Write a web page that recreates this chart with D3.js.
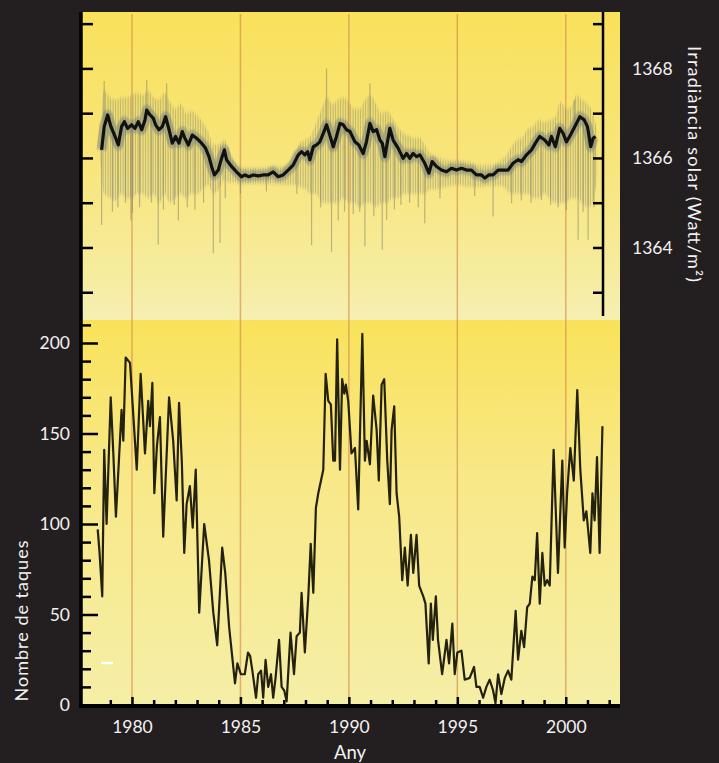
<!DOCTYPE html>
<html>
<head>
<meta charset="utf-8">
<script src="https://cdn.jsdelivr.net/npm/d3@7"></script>
<style>
  html, body { margin: 0; padding: 0; background: #231f20; }
  svg { display: block; font-family: Lato, 'Open Sans', sans-serif; }
</style>
</head>
<body>
<div id="chart"></div>
<script>
// monthly sunspot number: [year, count]
const sunspots = [
  [1978.42, 97], [1978.50, 85], [1978.63, 60], [1978.72, 141], [1978.83, 100],
  [1979.02, 170], [1979.14, 139], [1979.26, 104], [1979.52, 163], [1979.60, 146],
  [1979.71, 192], [1979.91, 189], [1980.22, 130], [1980.40, 183], [1980.60, 139],
  [1980.75, 168], [1980.83, 154], [1980.94, 178], [1981.03, 117], [1981.15, 143],
  [1981.29, 159], [1981.44, 93], [1981.71, 170], [1981.90, 146], [1982.06, 113],
  [1982.17, 167], [1982.30, 134], [1982.41, 84], [1982.52, 111], [1982.67, 121],
  [1982.80, 98], [1982.94, 130], [1983.10, 51], [1983.33, 100], [1983.55, 80],
  [1983.75, 51], [1983.93, 33], [1984.16, 87], [1984.30, 73], [1984.48, 43],
  [1984.75, 12], [1984.86, 23], [1985.02, 17], [1985.20, 17], [1985.35, 29],
  [1985.45, 27], [1985.55, 19], [1985.72, 4], [1985.82, 17], [1985.95, 19],
  [1986.05, 4], [1986.16, 25], [1986.28, 10], [1986.41, 17], [1986.51, 4],
  [1986.62, 15], [1986.78, 36], [1986.90, 10], [1987.02, 8], [1987.13, 2],
  [1987.31, 40], [1987.47, 17], [1987.59, 38], [1987.74, 40], [1987.82, 62],
  [1987.97, 29], [1988.13, 60], [1988.24, 89], [1988.36, 62], [1988.48, 109],
  [1988.59, 117], [1988.82, 130], [1988.93, 183], [1989.05, 168], [1989.17, 166],
  [1989.28, 135], [1989.36, 135], [1989.46, 202], [1989.59, 130], [1989.69, 180],
  [1989.79, 172], [1989.86, 177], [1989.97, 168], [1990.12, 139], [1990.28, 142],
  [1990.43, 108], [1990.62, 205], [1990.74, 135], [1990.82, 146], [1990.97, 133],
  [1991.12, 171], [1991.28, 152], [1991.38, 124], [1991.51, 177], [1991.63, 180],
  [1991.77, 135], [1991.89, 111], [1991.97, 152], [1992.09, 165], [1992.20, 117],
  [1992.32, 104], [1992.46, 69], [1992.58, 87], [1992.71, 66], [1992.86, 94],
  [1992.97, 73], [1993.12, 94], [1993.24, 66], [1993.43, 60], [1993.53, 56],
  [1993.68, 23], [1993.78, 56], [1993.87, 36], [1994.01, 60], [1994.11, 36],
  [1994.30, 17], [1994.50, 36], [1994.62, 23], [1994.77, 45], [1994.88, 17],
  [1995.00, 29], [1995.19, 30], [1995.34, 14], [1995.57, 15], [1995.77, 21],
  [1995.88, 10], [1996.03, 10], [1996.19, 4], [1996.34, 10], [1996.49, 14],
  [1996.65, 8], [1996.76, 1], [1996.88, 17], [1997.03, 6], [1997.19, 15],
  [1997.34, 19], [1997.49, 14], [1997.69, 52], [1997.80, 25], [1997.95, 41],
  [1998.08, 32], [1998.22, 54], [1998.34, 56], [1998.46, 71], [1998.57, 69],
  [1998.68, 95], [1998.80, 56], [1998.92, 84], [1999.03, 66], [1999.14, 69],
  [1999.26, 66], [1999.44, 141], [1999.64, 73], [1999.84, 135], [1999.95, 87],
  [2000.06, 117], [2000.21, 142], [2000.37, 124], [2000.53, 174], [2000.67, 130],
  [2000.83, 102], [2000.95, 107], [2001.13, 84], [2001.23, 117], [2001.33, 102],
  [2001.44, 137], [2001.56, 84], [2001.69, 154]
]

// smoothed total solar irradiance (black line): [year, W/m2]
const irradiance = [
  [1978.60, 1366.18], [1978.72, 1366.70], [1978.88, 1366.96], [1979.03, 1366.70],
  [1979.22, 1366.48], [1979.37, 1366.29], [1979.52, 1366.70], [1979.65, 1366.81],
  [1979.80, 1366.66], [1979.98, 1366.74], [1980.14, 1366.66], [1980.29, 1366.81],
  [1980.45, 1366.63], [1980.60, 1366.85], [1980.68, 1367.07], [1980.83, 1366.96],
  [1980.98, 1366.89], [1981.09, 1366.74], [1981.24, 1366.63], [1981.40, 1366.70],
  [1981.55, 1366.92], [1981.71, 1366.63], [1981.86, 1366.33], [1982.01, 1366.48],
  [1982.17, 1366.33], [1982.32, 1366.59], [1982.44, 1366.44], [1982.60, 1366.29],
  [1982.78, 1366.51], [1982.98, 1366.44], [1983.21, 1366.33], [1983.39, 1366.22],
  [1983.55, 1366.03], [1983.67, 1365.81], [1983.80, 1365.62], [1983.98, 1365.73],
  [1984.13, 1365.99], [1984.26, 1366.18], [1984.36, 1365.96], [1984.59, 1365.81],
  [1984.82, 1365.69], [1985.05, 1365.58], [1985.21, 1365.62], [1985.39, 1365.58],
  [1985.59, 1365.62], [1985.82, 1365.60], [1986.05, 1365.62], [1986.28, 1365.62],
  [1986.51, 1365.69], [1986.74, 1365.58], [1986.97, 1365.62], [1987.20, 1365.73],
  [1987.43, 1365.84], [1987.67, 1366.07], [1987.82, 1366.14], [1987.97, 1366.07],
  [1988.10, 1366.14], [1988.20, 1365.96], [1988.36, 1366.25], [1988.51, 1366.29],
  [1988.66, 1366.36], [1988.82, 1366.55], [1988.97, 1366.74], [1989.12, 1366.51],
  [1989.28, 1366.25], [1989.43, 1366.48], [1989.59, 1366.77], [1989.74, 1366.74],
  [1989.89, 1366.63], [1990.05, 1366.59], [1990.28, 1366.36], [1990.46, 1366.29],
  [1990.66, 1366.10], [1990.81, 1366.36], [1990.97, 1366.77], [1991.12, 1366.59],
  [1991.28, 1366.63], [1991.43, 1366.40], [1991.54, 1366.33], [1991.66, 1366.03],
  [1991.78, 1366.36], [1991.89, 1366.66], [1992.04, 1366.40], [1992.27, 1366.22],
  [1992.50, 1365.99], [1992.66, 1366.10], [1992.81, 1365.99], [1992.96, 1366.10],
  [1993.12, 1366.03], [1993.27, 1366.07], [1993.50, 1365.88], [1993.69, 1365.66],
  [1993.84, 1365.92], [1994.04, 1365.81], [1994.27, 1365.73], [1994.50, 1365.69],
  [1994.73, 1365.77], [1994.96, 1365.73], [1995.19, 1365.77], [1995.42, 1365.73],
  [1995.65, 1365.73], [1995.88, 1365.62], [1996.11, 1365.62], [1996.27, 1365.55],
  [1996.45, 1365.62], [1996.65, 1365.62], [1996.88, 1365.73], [1997.16, 1365.73],
  [1997.34, 1365.73], [1997.57, 1365.88], [1997.80, 1365.96], [1997.96, 1365.92],
  [1998.19, 1366.07], [1998.42, 1366.18], [1998.60, 1366.33], [1998.80, 1366.48],
  [1999.03, 1366.40], [1999.22, 1366.29], [1999.34, 1366.48], [1999.52, 1366.25],
  [1999.72, 1366.66], [1999.88, 1366.55], [2000.03, 1366.36], [2000.18, 1366.48],
  [2000.34, 1366.63], [2000.49, 1366.77], [2000.65, 1366.92], [2000.85, 1366.85],
  [2001.00, 1366.70], [2001.15, 1366.25], [2001.26, 1366.44], [2001.37, 1366.48]
]

// spread of the daily values (grey band): [year, high, low]
const dailySpread = [
  [1978.55, 1366.40, 1365.90], [1978.70, 1367.50, 1365.20], [1979.00, 1367.35, 1365.10],
  [1979.25, 1367.30, 1365.05], [1979.50, 1367.35, 1365.20], [1979.75, 1367.35, 1365.10],
  [1980.00, 1367.40, 1365.10], [1980.25, 1367.45, 1365.20], [1980.50, 1367.40, 1365.20],
  [1980.75, 1367.50, 1365.10], [1981.00, 1367.35, 1365.20], [1981.25, 1367.30, 1365.00],
  [1981.50, 1367.45, 1365.20], [1981.75, 1367.25, 1365.00], [1982.00, 1367.10, 1365.10],
  [1982.25, 1367.20, 1365.20], [1982.50, 1367.00, 1365.10], [1982.75, 1367.05, 1365.20],
  [1983.00, 1366.95, 1365.20], [1983.25, 1366.80, 1365.30], [1983.50, 1366.60, 1365.40],
  [1983.75, 1366.30, 1365.20], [1984.00, 1366.30, 1365.30], [1984.25, 1366.40, 1365.50],
  [1984.50, 1366.15, 1365.45], [1984.75, 1365.90, 1365.45], [1985.00, 1365.78, 1365.40],
  [1985.50, 1365.78, 1365.42], [1986.00, 1365.78, 1365.42], [1986.50, 1365.82, 1365.42],
  [1987.00, 1365.80, 1365.40], [1987.50, 1366.05, 1365.40], [1987.75, 1366.35, 1365.35],
  [1988.00, 1366.40, 1365.30], [1988.25, 1366.50, 1365.20], [1988.50, 1366.80, 1365.20],
  [1988.75, 1367.10, 1365.00], [1989.00, 1367.35, 1365.00], [1989.25, 1367.20, 1365.00],
  [1989.50, 1367.30, 1365.00], [1989.75, 1367.35, 1365.10], [1990.00, 1367.25, 1365.00],
  [1990.25, 1367.10, 1365.00], [1990.50, 1367.10, 1364.90], [1990.75, 1367.30, 1365.00],
  [1991.00, 1367.40, 1365.00], [1991.25, 1367.20, 1364.90], [1991.50, 1367.00, 1365.00],
  [1991.75, 1367.05, 1365.00], [1992.00, 1366.90, 1365.10], [1992.25, 1366.70, 1365.10],
  [1992.50, 1366.55, 1365.20], [1992.75, 1366.50, 1365.20], [1993.00, 1366.45, 1365.20],
  [1993.25, 1366.45, 1365.20], [1993.50, 1366.30, 1365.20], [1993.75, 1366.10, 1365.30],
  [1994.00, 1366.05, 1365.30], [1994.50, 1365.95, 1365.35], [1995.00, 1365.95, 1365.40],
  [1995.50, 1365.92, 1365.35], [1996.00, 1365.85, 1365.35], [1996.50, 1365.85, 1365.38],
  [1997.00, 1365.95, 1365.38], [1997.25, 1366.05, 1365.30], [1997.50, 1366.25, 1365.20],
  [1997.75, 1366.40, 1365.20], [1998.00, 1366.45, 1365.20], [1998.25, 1366.65, 1365.20],
  [1998.50, 1366.70, 1365.10], [1998.75, 1366.85, 1365.10], [1999.00, 1366.80, 1365.20],
  [1999.25, 1366.85, 1365.10], [1999.50, 1366.90, 1365.00], [1999.75, 1367.25, 1365.00],
  [2000.00, 1367.10, 1365.00], [2000.25, 1367.15, 1365.10], [2000.50, 1367.40, 1365.10],
  [2000.75, 1367.30, 1365.00], [2001.00, 1367.20, 1364.90], [2001.25, 1367.00, 1365.00],
  [2001.45, 1366.60, 1365.60]
]

// isolated daily extremes sticking out of the band: [year, W/m2]
const dailySpikes = [
  [1978.60, 1364.50], [1978.72, 1367.72], [1979.10, 1364.80], [1979.35, 1364.90],
  [1979.70, 1365.00], [1979.95, 1364.60], [1980.02, 1364.77], [1980.35, 1364.90],
  [1980.68, 1367.74], [1980.90, 1365.00], [1981.21, 1364.06], [1981.45, 1364.85],
  [1981.60, 1367.67], [1981.95, 1364.95], [1982.14, 1364.60], [1982.55, 1364.90],
  [1982.90, 1364.85], [1983.30, 1365.00], [1983.75, 1363.87], [1984.06, 1364.10],
  [1984.30, 1365.10], [1985.00, 1365.20], [1986.20, 1365.25], [1987.60, 1365.20],
  [1988.28, 1364.05], [1988.70, 1364.90], [1988.97, 1368.00], [1989.20, 1363.90],
  [1989.51, 1364.60], [1989.80, 1364.80], [1990.20, 1364.75], [1990.50, 1364.80],
  [1990.74, 1364.02], [1990.97, 1367.67], [1991.15, 1364.70], [1991.54, 1363.95],
  [1991.74, 1364.62], [1992.10, 1364.85], [1992.40, 1364.95], [1992.80, 1365.00],
  [1993.20, 1364.90], [1993.50, 1364.54], [1994.20, 1365.10], [1995.80, 1365.15],
  [1996.65, 1364.69], [1997.50, 1364.99], [1997.95, 1365.05], [1998.40, 1365.00],
  [1998.88, 1365.06], [1999.30, 1364.95], [1999.65, 1364.90], [2000.03, 1364.84],
  [2000.40, 1367.30], [2000.57, 1364.17], [2000.80, 1364.80], [2001.03, 1364.17],
  [2001.30, 1364.90]
]

const yearLabels = [1980, 1985, 1990, 1995, 2000]
const yearMinor = [1979, 1981, 1982, 1983, 1984, 1986, 1987, 1988, 1989, 1991, 1992,
  1993, 1994, 1996, 1997, 1998, 1999, 2001, 2002]
const irrTicks = [1363, 1364, 1365, 1366, 1367, 1368, 1369]
const irrLabels = [1364, 1366, 1368]
const spotLabels = [0, 50, 100, 150, 200]
const spotMinor = [10, 20, 30, 40, 60, 70, 80, 90, 110, 120, 130, 140, 160, 170, 180, 190, 210]

const W = 719
const H = 763
const plotLeft = 81
const plotRight = 620
const plotTop = 12
const plotSplit = 320
const plotBottom = 705

const x = d3.scaleLinear().domain([1977.65, 2002.5]).range([plotLeft, plotRight])
const yIrr = d3.scaleLinear().domain([1362.38, 1369.26]).range([plotSplit, plotTop])
const ySpot = d3.scaleLinear().domain([0, 200]).range([plotBottom, 343])

const svg = d3.select('#chart')
  .append('svg')
  .attr('width', W)
  .attr('height', H)
svg.append('rect')
  .attr('width', W)
  .attr('height', H)
  .attr('fill', '#231f20')

// gradients, hatch and blur for the daily band
const defs = svg.append('defs')
function vGrad (id, stops) {
  let g = defs.append('linearGradient')
    .attr('id', id)
    .attr('x1', 0).attr('x2', 0).attr('y1', 0).attr('y2', 1)
  stops.forEach(s => g.append('stop').attr('offset', s[0]).attr('stop-color', s[1]))
}
vGrad('upperBg', [[0, '#f9e15b'], [0.5, '#f8e57c'], [0.85, '#f6ec9f'], [1, '#f5efb2']])
vGrad('lowerBg', [[0, '#f9e25a'], [0.4, '#f8e887'], [1, '#f5eea6']])

const hatch = defs.append('pattern')
  .attr('id', 'hatch')
  .attr('patternUnits', 'userSpaceOnUse')
  .attr('width', 5)
  .attr('height', 10)
hatch.append('rect')
  .attr('width', 5).attr('height', 10)
  .attr('fill', '#8e9280').attr('fill-opacity', 0.09)
;[[0, 0.32], [2, 0.14], [3, 0.22]].forEach(h => hatch.append('rect')
  .attr('x', h[0]).attr('width', 1).attr('height', 10)
  .attr('fill', '#6d7466').attr('fill-opacity', h[1]))

defs.append('filter').attr('id', 'soft')
  .append('feGaussianBlur').attr('stdDeviation', '0.6 1.5')

defs.append('clipPath').attr('id', 'clipUp')
  .append('rect').attr('x', plotLeft).attr('y', plotTop)
  .attr('width', plotRight - plotLeft).attr('height', plotSplit - plotTop)
defs.append('clipPath').attr('id', 'clipLow')
  .append('rect').attr('x', plotLeft).attr('y', plotSplit)
  .attr('width', plotRight - plotLeft).attr('height', plotBottom - plotSplit)

// panel backgrounds
svg.append('rect')
  .attr('x', plotLeft).attr('y', plotTop)
  .attr('width', plotRight - plotLeft).attr('height', plotSplit - plotTop)
  .attr('fill', 'url(#upperBg)')
svg.append('rect')
  .attr('x', plotLeft).attr('y', plotSplit)
  .attr('width', plotRight - plotLeft).attr('height', plotBottom - plotSplit)
  .attr('fill', 'url(#lowerBg)')

// orange year guides
svg.append('g')
  .selectAll('line')
  .data(yearLabels)
  .join('line')
  .attr('x1', d => x(d)).attr('x2', d => x(d))
  .attr('y1', plotTop + 2).attr('y2', plotBottom)
  .attr('stroke', '#d8924e')
  .attr('stroke-opacity', 0.7)
  .attr('stroke-width', 1.5)

// upper panel: daily band, spikes, smoothed line
const up = svg.append('g').attr('clip-path', 'url(#clipUp)')
up.append('path')
  .datum(dailySpread)
  .attr('d', d3.area().x(d => x(d[0])).y0(d => yIrr(d[2])).y1(d => yIrr(d[1])).curve(d3.curveMonotoneX))
  .attr('fill', 'url(#hatch)')
  .attr('filter', 'url(#soft)')

const smooth = d3.scaleLinear().domain(irradiance.map(d => d[0])).range(irradiance.map(d => d[1]))
up.append('g')
  .selectAll('line')
  .data(dailySpikes)
  .join('line')
  .attr('x1', d => x(d[0])).attr('x2', d => x(d[0]))
  .attr('y1', d => yIrr(smooth(d[0])))
  .attr('y2', d => yIrr(d[1]))
  .attr('stroke', '#7b7e68')
  .attr('stroke-opacity', 0.5)
  .attr('stroke-width', 1.2)

const irrLine = d3.line().x(d => x(d[0])).y(d => yIrr(d[1]))
up.append('path')
  .datum(irradiance)
  .attr('d', irrLine)
  .attr('fill', 'none')
  .attr('stroke', '#6e7a78')
  .attr('stroke-opacity', 0.5)
  .attr('stroke-width', 10)
  .attr('stroke-linejoin', 'round')
  .attr('filter', 'url(#soft)')
up.append('path')
  .datum(irradiance)
  .attr('d', irrLine)
  .attr('fill', 'none')
  .attr('stroke', '#111')
  .attr('stroke-width', 3.2)
  .attr('stroke-linejoin', 'round')

// lower panel: sunspots
svg.append('g').attr('clip-path', 'url(#clipLow)')
  .append('path')
  .datum(sunspots)
  .attr('d', d3.line().x(d => x(d[0])).y(d => ySpot(d[1])))
  .attr('fill', 'none')
  .attr('stroke', '#24220f')
  .attr('stroke-width', 2.2)
  .attr('stroke-linejoin', 'round')

// stray white mark in the original
svg.append('line')
  .attr('x1', 101).attr('x2', 113).attr('y1', 663).attr('y2', 663)
  .attr('stroke', '#fff').attr('stroke-width', 2.5)

// axes
function styleAxis (g) {
  g.select('.domain').remove()
  g.attr('font-family', null).attr('font-size', 17.5)
  g.selectAll('.tick line').attr('stroke', '#000').attr('stroke-width', 2.5)
  g.selectAll('.tick text').attr('fill', '#f2f2f2')
}

svg.append('g')
  .attr('transform', `translate(0,${plotBottom})`)
  .call(d3.axisBottom(x).tickValues(yearLabels).tickSize(-8).tickPadding(16).tickFormat(d3.format('d')))
  .call(styleAxis)
svg.append('g')
  .attr('transform', `translate(0,${plotBottom})`)
  .call(d3.axisBottom(x).tickValues(yearMinor).tickSize(-5).tickFormat(''))
  .call(styleAxis)

svg.append('g')
  .attr('transform', `translate(${plotLeft},0)`)
  .call(d3.axisLeft(ySpot).tickValues(spotLabels).tickSize(-17).tickPadding(11))
  .call(styleAxis)
svg.append('g')
  .attr('transform', `translate(${plotLeft},0)`)
  .call(d3.axisLeft(ySpot).tickValues(spotMinor).tickSize(-10).tickFormat(''))
  .call(styleAxis)

svg.append('g')
  .attr('transform', `translate(${plotLeft},0)`)
  .call(d3.axisLeft(yIrr).tickValues(irrTicks).tickSize(-12).tickFormat(''))
  .call(styleAxis)

const rightX = 603
svg.append('g')
  .attr('transform', `translate(${rightX},0)`)
  .call(d3.axisRight(yIrr).tickValues(irrTicks).tickSize(-10).tickPadding(29)
    .tickFormat(d => irrLabels.includes(d) ? d : ''))
  .call(styleAxis)

// axis lines
svg.append('line')
  .attr('x1', rightX).attr('x2', rightX).attr('y1', plotTop).attr('y2', 316)
  .attr('stroke', '#000').attr('stroke-width', 2.5)
svg.append('line')
  .attr('x1', plotLeft).attr('x2', plotLeft).attr('y1', plotTop).attr('y2', plotBottom + 2)
  .attr('stroke', '#000').attr('stroke-width', 3.5)
svg.append('line')
  .attr('x1', plotLeft - 2).attr('x2', plotRight).attr('y1', plotBottom + 1).attr('y2', plotBottom + 1)
  .attr('stroke', '#000').attr('stroke-width', 4)

// titles
svg.append('text')
  .attr('transform', 'translate(695,164) rotate(90)')
  .attr('text-anchor', 'middle')
  .attr('dominant-baseline', 'central')
  .attr('fill', '#f2f2f2')
  .attr('font-size', 18)
  .attr('textLength', 236)
  .attr('lengthAdjust', 'spacing')
  .text('Irradiància solar (Watt/m²)')
svg.append('text')
  .attr('transform', 'translate(21,621) rotate(-90)')
  .attr('text-anchor', 'middle')
  .attr('dominant-baseline', 'central')
  .attr('fill', '#f2f2f2')
  .attr('font-size', 18)
  .attr('textLength', 161)
  .attr('lengthAdjust', 'spacing')
  .text('Nombre de taques')
svg.append('text')
  .attr('x', 350).attr('y', 759)
  .attr('text-anchor', 'middle')
  .attr('fill', '#f2f2f2')
  .attr('font-size', 18.5)
  .text('Any')
</script>
</body>
</html>
